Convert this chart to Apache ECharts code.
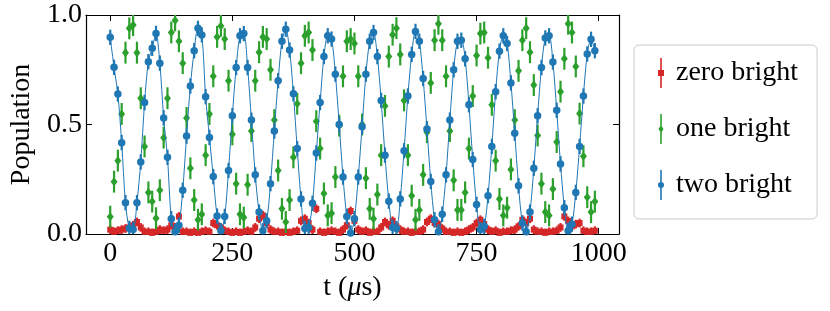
<!DOCTYPE html>
<html>
<head>
<meta charset="utf-8">
<script src="https://cdn.jsdelivr.net/npm/echarts@6/dist/echarts.min.js"></script>
<style>html,body{margin:0;padding:0;background:#fff;}#c{width:830px;height:311px;}</style>
</head>
<body>
<div id="c"></div>
<script>
// time points (µs)
const t = [0,7.81,15.63,23.44,31.25,39.06,46.88,54.69,62.5,70.31,78.13,85.94,93.75,101.56,109.38,117.19,125,132.81,140.63,148.44,156.25,164.06,171.88,179.69,187.5,195.31,203.13,210.94,218.75,226.56,234.38,242.19,250,257.81,265.63,273.44,281.25,289.06,296.88,304.69,312.5,320.31,328.13,335.94,343.75,351.56,359.38,367.19,375,382.81,390.63,398.44,406.25,414.06,421.88,429.69,437.5,445.31,453.13,460.94,468.75,476.56,484.38,492.19,500,507.81,515.63,523.44,531.25,539.06,546.88,554.69,562.5,570.31,578.13,585.94,593.75,601.56,609.38,617.19,625,632.81,640.63,648.44,656.25,664.06,671.88,679.69,687.5,695.31,703.13,710.94,718.75,726.56,734.38,742.19,750,757.81,765.63,773.44,781.25,789.06,796.88,804.69,812.5,820.31,828.13,835.94,843.75,851.56,859.38,867.19,875,882.81,890.63,898.44,906.25,914.06,921.88,929.69,937.5,945.31,953.13,960.94,968.75,976.56,984.38,992.19];

const zeroBright = [0.02,0.01,0.015,0.02,0.025,0.03,0.04,0.055,0.03,0.01,
0.01,0.005,0.01,0.02,0.015,0.02,0.04,0.03,0.08,0.01,
0.01,0.005,0.01,0.005,0.01,0.015,0.01,0.05,0.04,0.03,
0.015,0.01,0.005,0.01,0.005,0.01,0.015,0.01,0.03,0.07,
0.085,0.05,0.02,0.01,0.01,0.005,0.01,0.005,0.01,0.015,
0.06,0.07,0.05,0.02,0.115,0.01,0.005,0.01,0.015,0.01,
0.005,0.02,0.04,0.105,0.06,0.02,0.01,0.015,0.005,0.01,
0.01,0.03,0.055,0.04,0.06,0.035,0.02,0.01,0.01,0.005,
0.01,0.01,0.02,0.055,0.07,0.05,0.045,0.025,0.01,0.01,
0.005,0.01,0.005,0.01,0.02,0.03,0.05,0.065,0.045,0.02,
0.01,0.015,0.005,0.01,0.01,0.015,0.02,0.035,0.065,0.05,
0.07,0.02,0.01,0.01,0.005,0.01,0.01,0.015,0.03,0.08,
0.06,0.035,0.045,0.05,0.015,0.01,0.01,0.015];

const oneBright = [0.079,0.239,0.335,0.548,0.828,0.939,0.954,0.828,0.620,0.400,
0.190,0.148,0.072,0.200,0.440,0.620,0.920,0.975,0.880,0.780,
0.530,0.300,0.155,0.065,0.090,0.360,0.548,0.720,0.900,0.950,
0.890,0.700,0.455,0.230,0.090,0.075,0.225,0.470,0.700,0.830,
0.900,0.890,0.750,0.520,0.290,0.115,0.055,0.155,0.350,0.595,
0.780,0.905,0.920,0.840,0.515,0.390,0.185,0.085,0.095,0.260,
0.495,0.720,0.880,0.890,0.870,0.720,0.500,0.255,0.115,0.070,
0.180,0.360,0.585,0.810,0.910,0.940,0.820,0.610,0.360,0.175,
0.065,0.110,0.270,0.465,0.690,0.885,0.960,0.885,0.720,0.470,
0.245,0.110,0.110,0.190,0.390,0.630,0.815,0.915,0.920,0.805,
0.590,0.335,0.160,0.085,0.120,0.295,0.520,0.745,0.885,0.940,
0.830,0.680,0.450,0.230,0.100,0.085,0.205,0.420,0.650,0.800,
0.960,0.920,0.765,0.550,0.355,0.168,0.100,0.148];

const twoBright = [0.898,0.761,0.639,0.417,0.143,0.026,0.021,0.143,0.329,0.600,
0.787,0.848,0.916,0.780,0.530,0.350,0.070,0.010,0.040,0.200,
0.447,0.676,0.837,0.939,0.909,0.627,0.441,0.262,0.082,0.015,
0.080,0.290,0.540,0.760,0.905,0.915,0.760,0.520,0.270,0.100,
0.015,0.060,0.230,0.470,0.700,0.880,0.935,0.840,0.640,0.390,
0.160,0.025,0.030,0.140,0.370,0.600,0.810,0.905,0.890,0.730,
0.500,0.260,0.080,0.005,0.070,0.260,0.490,0.730,0.880,0.920,
0.810,0.610,0.360,0.150,0.030,0.025,0.160,0.380,0.630,0.820,
0.925,0.880,0.710,0.480,0.240,0.065,0.010,0.090,0.270,0.520,
0.750,0.880,0.885,0.800,0.590,0.340,0.135,0.020,0.035,0.175,
0.400,0.650,0.835,0.905,0.870,0.690,0.460,0.220,0.050,0.010,
0.100,0.300,0.540,0.760,0.895,0.905,0.785,0.565,0.320,0.120,
0.015,0.045,0.190,0.400,0.630,0.822,0.889,0.837];

// error-bar half widths
const zeroErr = 0.02, oneErr = 0.05, twoErr = 0.035;

const xTicks = [0, 250, 500, 750, 1000];
const yTicks = [0, 0.5, 1.0];
const xMin = -49.6, xMax = 1041.6;

const C_RED = '#d62728', C_GREEN = '#2ca02c', C_BLUE = '#1f77b4';
const FONT = 'Liberation Serif';

function pts(vals, err) { return t.map((x, i) => [x, vals[i], err]); }
function errRender(color) {
  return function (params, api) {
    const x = api.value(0), y = api.value(1), e = api.value(2);
    const p1 = api.coord([x, y - e]), p2 = api.coord([x, y + e]);
    return { type: 'line', shape: { x1: p1[0], y1: p1[1], x2: p2[0], y2: p2[1] },
      style: { stroke: color, lineWidth: 2.2 } };
  };
}

const chart = echarts.init(document.getElementById('c'), null, { renderer: 'canvas' });
const tickStyle = { show: true, inside: true, length: 6, lineStyle: { color: '#000', width: 1 } };
const lineStyle = { show: true, onZero: false, lineStyle: { color: '#000', width: 1.2 } };
const labelStyle = { fontFamily: FONT, fontSize: 28, color: '#000' };

chart.setOption({
  animation: false,
  backgroundColor: '#fff',
  grid: { left: 82, right: 211, top: 15, bottom: 77 },
  xAxis: [
    { type: 'value', position: 'bottom', min: xMin, max: xMax,
      axisLine: lineStyle,
      axisTick: Object.assign({}, tickStyle, { customValues: xTicks }),
      axisLabel: Object.assign({}, labelStyle, { customValues: xTicks, margin: 6, formatter: v => String(v) }),
      splitLine: { show: false },
      name: '{n|t (}{m|\u03bc}{n|s)}', nameLocation: 'middle', nameGap: 40,
      nameTextStyle: Object.assign({}, labelStyle, {
        rich: { n: { fontFamily: FONT, fontSize: 28, color: '#000' },
                m: { fontFamily: FONT, fontSize: 28, color: '#000', fontStyle: 'italic' } } }) },
    { type: 'value', position: 'top', min: xMin, max: xMax,
      axisLine: lineStyle,
      axisTick: Object.assign({}, tickStyle, { customValues: xTicks }),
      axisLabel: { show: false }, splitLine: { show: false } }
  ],
  yAxis: [
    { type: 'value', position: 'left', min: 0, max: 1, interval: 0.5,
      axisLine: lineStyle, axisTick: tickStyle,
      axisLabel: Object.assign({}, labelStyle, { margin: 4, formatter: v => v.toFixed(1) }),
      splitLine: { show: false },
      name: 'Population', nameLocation: 'middle', nameGap: 50,
      nameTextStyle: labelStyle },
    { type: 'value', position: 'right', min: 0, max: 1, interval: 0.5,
      axisLine: lineStyle, axisTick: tickStyle,
      axisLabel: { show: false }, splitLine: { show: false } }
  ],
  legend: {
    orient: 'vertical', left: 634, top: 45,
    padding: [13, 19, 19, 24], itemGap: 26,
    itemWidth: 8, itemHeight: 30,
    borderColor: '#cccccc', borderWidth: 1, borderRadius: 5,
    backgroundColor: '#fff',
    textStyle: { fontFamily: FONT, fontSize: 28, color: '#000', padding: [0, 0, 0, 6] },
    data: [
      { name: 'zero bright', icon: 'path://M3.2,0L4.8,0L4.8,30L3.2,30Z M1,12L7,12L7,18L1,18Z' },
      { name: 'one bright', icon: 'path://M3.2,0L4.8,0L4.8,30L3.2,30Z M4,11L6.5,15L4,19L1.5,15Z' },
      { name: 'two bright', icon: 'path://M3.2,0L4.8,0L4.8,30L3.2,30Z M4,12A3,3,0,1,1,4,18A3,3,0,1,1,4,12Z' }
    ]
  },
  series: [
    { type: 'custom', name: 'zeroErr', renderItem: errRender(C_RED), data: pts(zeroBright, zeroErr), clip: true, z: 2 },
    { type: 'scatter', name: 'zero bright', data: pts(zeroBright, zeroErr), symbol: 'rect', symbolSize: [6, 6],
      itemStyle: { color: C_RED, opacity: 1 }, z: 2 },
    { type: 'custom', name: 'oneErr', renderItem: errRender(C_GREEN), data: pts(oneBright, oneErr), clip: true, z: 3 },
    { type: 'scatter', name: 'one bright', data: pts(oneBright, oneErr), symbol: 'diamond', symbolSize: [7, 9],
      itemStyle: { color: C_GREEN, opacity: 1 }, z: 3 },
    { type: 'line', name: 'fit', data: pts(twoBright, twoErr), showSymbol: false, smooth: 0.3,
      lineStyle: { color: C_BLUE, width: 1 }, z: 4 },
    { type: 'custom', name: 'twoErr', renderItem: errRender(C_BLUE), data: pts(twoBright, twoErr), clip: true, z: 5 },
    { type: 'scatter', name: 'two bright', data: pts(twoBright, twoErr), symbol: 'circle', symbolSize: 7.5,
      itemStyle: { color: C_BLUE, opacity: 1 }, z: 5 }
  ]
});
</script>
</body>
</html>
